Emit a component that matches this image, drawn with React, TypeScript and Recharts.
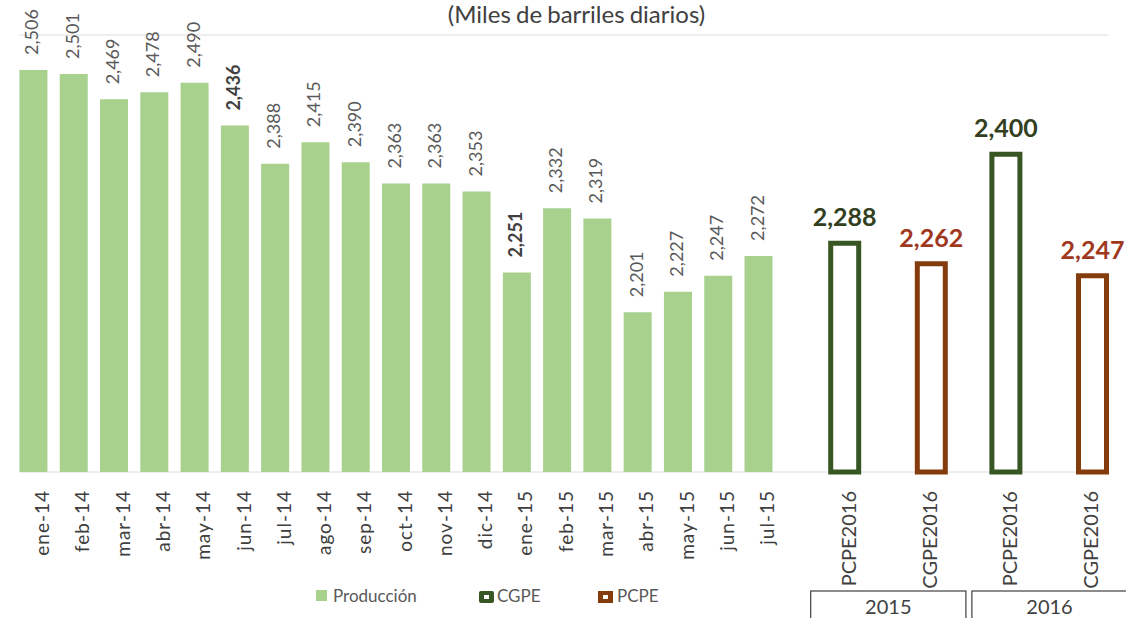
import React from "react";
import { ComposedChart, Bar, XAxis, YAxis, CartesianGrid, ReferenceLine, LabelList } from "recharts";

// ---------- data ----------
const months = ["ene-14", "feb-14", "mar-14", "abr-14", "may-14", "jun-14", "jul-14", "ago-14", "sep-14", "oct-14", "nov-14", "dic-14", "ene-15", "feb-15", "mar-15", "abr-15", "may-15", "jun-15", "jul-15"];
const produccion = [2506, 2501, 2469, 2478, 2490, 2436, 2388, 2415, 2390, 2363, 2363, 2353, 2251, 2332, 2319, 2201, 2227, 2247, 2272];
const boldMonths = ["jun-14", "ene-15"];

const proyLabels = ["PCPE2016", "CGPE2016", "PCPE2016", "CGPE2016"];
const proyYears = ["2015", "2015", "2016", "2016"];
const cgpe: (number | null)[] = [2288, null, 2400, null];
const pcpe: (number | null)[] = [null, 2262, null, 2247];

const yDomain: [number, number] = [2000, 2550];
const yTicks = [2000, 2050, 2100, 2150, 2200, 2250, 2300, 2350, 2400, 2450, 2500, 2550];

const title = "(Miles de barriles diarios)";
const legendNames = ["Producción", "CGPE", "PCPE"];

const prodData = months.map((m, i) => ({ month: m, produccion: produccion[i] }));
const proyData = proyLabels.map((l, i) => ({ label: l, year: proyYears[i], cgpe: cgpe[i], pcpe: pcpe[i] }));

// ---------- styles ----------
const FONT = "Lato, 'Open Sans', sans-serif";
const C_PROD = "#A9D18E";
const C_CGPE = "#375623";
const C_PCPE = "#843C0C";
const C_CGPE_TXT = "#333F1F";
const C_PCPE_TXT = "#A0381E";

const fmt = (v: number) => v.toLocaleString("en-US");

const ProdTick = (props: any) => {
  const { x, y, payload } = props;
  const tx = x + 15.5;
  const ty = y + 18;
  return (
    <text x={tx} y={ty} transform={`rotate(-90 ${tx} ${ty})`} textAnchor="end" fontFamily={FONT} fontSize={19} letterSpacing={1} fill="#404040">
      {payload.value}
    </text>
  );
};

const ProyTick = (props: any) => {
  const { x, y, payload } = props;
  const tx = x + 8;
  const ty = y + 19;
  return (
    <text x={tx} y={ty} transform={`rotate(-90 ${tx} ${ty})`} textAnchor="end" fontFamily={FONT} fontSize={20} fill="#404040">
      {payload.value}
    </text>
  );
};

const YearTick = (props: any) => {
  const { x, y, payload } = props;
  const half = payload && payload.offset ? payload.offset : 80.6;
  return (
    <g>
      <rect x={x - half + 3} y={y + 4} width={2 * half - 6} height={80} fill="none" stroke="#404040" strokeWidth={1.2} />
      <text x={x} y={y + 27} textAnchor="middle" fontFamily={FONT} fontSize={20} fill="#404040">
        {payload.value}
      </text>
    </g>
  );
};

const renderProdLabel = (p: any) => {
  const { x, y, width, value, index } = p;
  if (value == null) return null;
  const cx = x + width / 2;
  const tx = cx + 5;
  const ty = y - 15;
  const bold = boldMonths.includes(months[index]);
  return (
    <text x={tx} y={ty} transform={`rotate(-90 ${tx} ${ty})`} textAnchor="start" fontFamily={FONT} fontSize={18} fontWeight={bold ? 700 : 400} fill={bold ? "#404040" : "#595959"}>
      {fmt(value)}
    </text>
  );
};

const makeProyLabel = (color: string) => (p: any) => {
  const { x, y, width, value } = p;
  if (value == null) return null;
  const cx = x + width / 2;
  return (
    <g>
      <rect x={cx - 40} y={y - 52} width={80} height={48} fill="#ffffff" />
      <text x={cx} y={y - 17} textAnchor="middle" fontFamily={FONT} fontSize={25} fontWeight={700} fill={color}>
        {fmt(value)}
      </text>
    </g>
  );
};

export default function App() {
  return (
    <div style={{ position: "absolute", left: 0, top: 0, width: 1126, height: 618, overflow: "hidden", background: "#fff", fontFamily: FONT }}>
      {/* grid layer */}
      <div style={{ position: "absolute", left: 0, top: 0 }}>
        <ComposedChart width={1126} height={618} data={prodData} margin={{ top: 35, left: 19, right: 18, bottom: 146 }}>
          <CartesianGrid vertical={false} stroke="#eeeeee" strokeWidth={2} />
          <XAxis dataKey="month" hide />
          <YAxis hide domain={yDomain} ticks={yTicks} />
          <ReferenceLine y={2000} stroke="#d9d9d9" strokeWidth={2} />
        </ComposedChart>
      </div>

      {/* production */}
      <div style={{ position: "absolute", left: 0, top: 0 }}>
        <ComposedChart width={800} height={618} data={prodData} margin={{ top: 35, left: 13.46, right: 21.2, bottom: 46 }}>
          <XAxis dataKey="month" height={100} interval={0} tickSize={0} tickMargin={0} axisLine={false} tickLine={false} tick={ProdTick} />
          <YAxis hide domain={yDomain} ticks={yTicks} />
          <Bar dataKey="produccion" name={legendNames[0]} fill={C_PROD} barSize={28} isAnimationActive={false}>
            <LabelList dataKey="produccion" content={renderProdLabel} />
          </Bar>
        </ComposedChart>
      </div>

      {/* projections */}
      <div style={{ position: "absolute", left: 780, top: 0 }}>
        <ComposedChart width={380} height={660} data={proyData} barGap={-22} margin={{ top: 35, left: 27.7, right: 29.9, bottom: 33 }}>
          <XAxis dataKey="label" height={115} interval={0} tickSize={0} tickMargin={0} axisLine={false} tickLine={false} tick={ProyTick} />
          <XAxis xAxisId="year" dataKey="year" allowDuplicatedCategory={false} height={40} interval={0} tickSize={0} tickMargin={0} axisLine={false} tickLine={false} tick={YearTick} />
          <YAxis hide domain={yDomain} ticks={yTicks} />
          <Bar dataKey="cgpe" name={legendNames[1]} fill="none" stroke={C_CGPE} strokeWidth={5} barSize={28} isAnimationActive={false}>
            <LabelList dataKey="cgpe" content={makeProyLabel(C_CGPE_TXT)} />
          </Bar>
          <Bar dataKey="pcpe" name={legendNames[2]} fill="none" stroke={C_PCPE} strokeWidth={5} barSize={28} isAnimationActive={false}>
            <LabelList dataKey="pcpe" content={makeProyLabel(C_PCPE_TXT)} />
          </Bar>
        </ComposedChart>
      </div>

      {/* title + legend */}
      <svg width={1126} height={618} style={{ position: "absolute", left: 0, top: 0, pointerEvents: "none" }}>
        <text x={576.5} y={23} textAnchor="middle" fontFamily={FONT} fontSize={24} fill="#404040" wordSpacing={-1}>
          {title}
        </text>
        <rect x={316} y={590} width={11} height={11} fill={C_PROD} />
        <text x={333} y={602} fontFamily={FONT} fontSize={17} fill="#595959">{legendNames[0]}</text>
        <rect x={479} y={591} width={15} height={12} rx={2} fill={C_CGPE} />
        <rect x={484} y={595} width={5} height={4} fill="#fff" />
        <text x={497} y={602} fontFamily={FONT} fontSize={17} fill="#595959">{legendNames[1]}</text>
        <rect x={598} y={591} width={15} height={12} fill={C_PCPE} />
        <rect x={603} y={595} width={5} height={4} fill="#fff" />
        <text x={617} y={602} fontFamily={FONT} fontSize={17} fill="#595959">{legendNames[2]}</text>
      </svg>
    </div>
  );
}
